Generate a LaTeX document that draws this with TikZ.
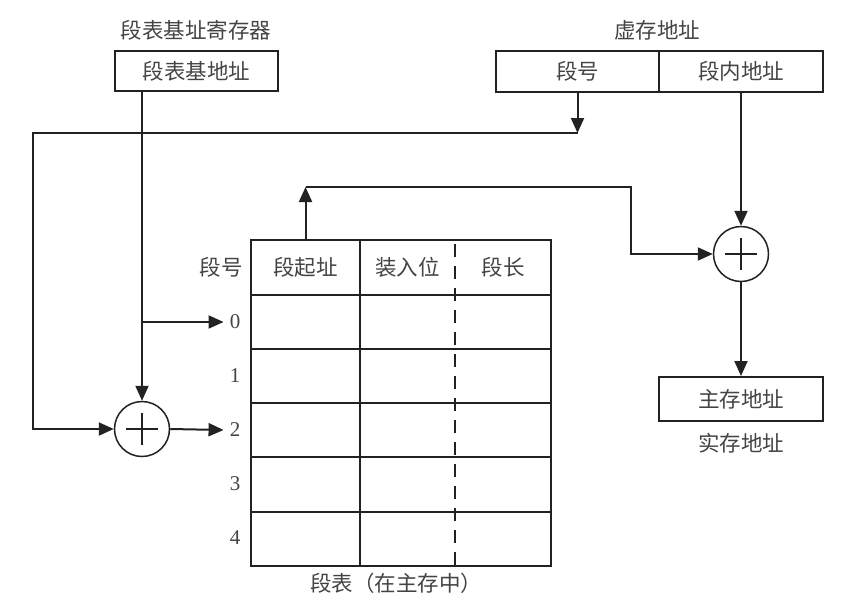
\documentclass[tikz,border=0pt]{standalone}
\usepackage{fontspec}
\setmainfont{Liberation Serif}
\newfontfamily\cjk{Noto Sans CJK SC}
\usetikzlibrary{arrows.meta}
\definecolor{txt}{HTML}{444444}
\definecolor{ln}{HTML}{222222}
\begin{document}
\begin{tikzpicture}[x={(1pt,0)},y={(0,-1pt)},
  every node/.style={text=txt,inner sep=0pt},
  zh/.style={font=\cjk\fontsize{21.5}{21.5}\selectfont},
  num/.style={font=\fontsize{21}{21}\selectfont},
  box/.style={draw=ln,line width=2pt,rectangle,zh},
  adder/.style={draw=ln,line width=1.5pt,circle,minimum size=55pt},
  wire/.style={draw=ln,line width=2pt},
  arr/.style={wire,-{Triangle[length=15pt,width=13pt]}}]
\useasboundingbox (0,0) rectangle (866,608);
\fill[white] (0,0) rectangle (866,608);

% register
\node[zh] (reglbl) at (196,30) {段表基址寄存器};
\node[box,minimum width=163pt,minimum height=40pt] (reg) at (196.5,71) {段表基地址};

% virtual address
\node[zh] (valbl) at (657,30) {虚存地址};
\node[box,minimum width=163pt,minimum height=41pt] (seg) at (577.5,71.5) {段号};
\node[box,minimum width=164pt,minimum height=41pt] (off) at (741,71.5) {段内地址};

% adders
\node[adder] (add1) at (142,429) {};
\node[adder] (add2) at (741,254) {};
\foreach \a in {add1,add2}{
  \draw[ln,line width=1.3pt] ([xshift=-16pt]\a.center) -- ([xshift=16pt]\a.center);
  \draw[ln,line width=1.3pt] ([yshift=-16pt]\a.center) -- ([yshift=16pt]\a.center);
}

% physical address
\node[box,minimum width=164pt,minimum height=44pt] (pa) at (741,399) {主存地址};
\node[zh] (palbl) at (741,443) {实存地址};

% table
\draw[wire] (251,240) rectangle (551,566);
\foreach \y in {295,349,403,457,512}{\draw[wire] (251,\y) -- (551,\y);}
\draw[ln,line width=2.5pt] (360,240) -- (360,566);
\draw[ln,line width=2pt,dash pattern=on 13pt off 9pt] (455,244) -- (455,566);
\node[zh] (h1) at (305.5,267.5) {段起址};
\node[zh] (h2) at (407.5,267.5) {装入位};
\node[zh] (h3) at (503,267.5) {段长};
\node[zh] (hn) at (221,267.5) {段号};
\node[num] (r0) at (235,322) {0};
\node[num] (r1) at (235,376) {1};
\node[num] (r2) at (235,430) {2};
\node[num] (r3) at (235,484) {3};
\node[num] (r4) at (235,538) {4};
\node[zh] (cap) at (396,583) {段表（在主存中）};

% connectors
\coordinate (bus) at (33,133);
\coordinate (top) at (631,187);
\draw[arr] (add1 |- reg.south) -- (add1.north);
\coordinate (j0) at (add1 |- r0);
\draw[arr] (j0) -- ([xshift=-6pt]r0.west);
\draw[arr] (seg.south) -- (seg.south |- bus);
\draw[arr] (seg.south |- bus) -- (bus) -- (bus |- add1) -- (add1.west);
\draw[arr] (add1.east) -- ([xshift=-6pt]r2.west);
\draw[arr] (h1.north |- 0,240) -- (h1.north |- top);
\draw[arr] (h1.north |- top) -- (top) -- (top |- add2) -- (add2.west);
\draw[arr] (off.south) -- (add2.north);
\draw[arr] (add2.south) -- (pa.north);
\end{tikzpicture}
\end{document}
